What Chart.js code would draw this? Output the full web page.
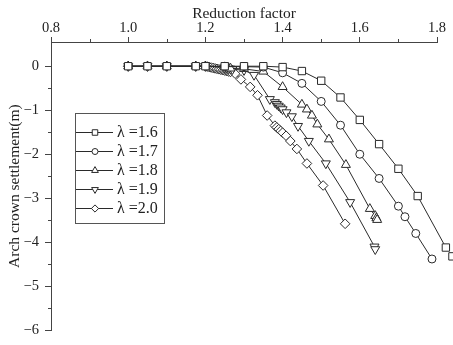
<!DOCTYPE html>
<html>
<head>
<meta charset="utf-8">
<script src="https://cdn.jsdelivr.net/npm/chart.js@4/dist/chart.umd.min.js"></script>
<style>
html,body{margin:0;padding:0;background:#fff}
#wrap{width:453px;height:345px;position:relative}
</style>
</head>
<body>
<div id="wrap"><canvas id="chart" width="453" height="345"></canvas></div>
<script>
// reduction factor vs crown settlement, one pair of arrays per lambda
const xTicks=[0.8,1.0,1.2,1.4,1.6,1.8]
const xMinor=[0.9,1.1,1.3,1.5,1.7]
const yTicks=[-6,-5,-4,-3,-2,-1,0]
const yMinor=[-5.5,-4.5,-3.5,-2.5,-1.5,-0.5]

const labels=["λ =1.6","λ =1.7","λ =1.8","λ =1.9","λ =2.0"]

const x16=[1.0,1.05,1.1,1.175,1.2,1.25,1.3,1.35,1.4,1.45,1.5,1.55,1.6,1.65,1.7,1.75,1.823,1.84]
const y16=[0,0,0,0,0,0,0,0,-0.02,-0.11,-0.33,-0.71,-1.22,-1.77,-2.33,-2.95,-4.12,-4.32]

const x17=[1.0,1.05,1.1,1.175,1.2,1.25,1.3,1.35,1.4,1.45,1.5,1.55,1.6,1.65,1.7,1.717,1.745,1.787]
const y17=[0,0,0,0,0,-0.01,-0.01,-0.02,-0.15,-0.39,-0.8,-1.34,-2.0,-2.55,-3.18,-3.42,-3.8,-4.38]

const x18=[1.0,1.05,1.1,1.175,1.2,1.25,1.255,1.26,1.265,1.3,1.35,1.4,1.45,1.463,1.476,1.49,1.52,1.564,1.626,1.64,1.643,1.645]
const y18=[0,0,0,0,0,-0.02,-0.03,-0.04,-0.05,-0.06,-0.12,-0.47,-0.87,-0.98,-1.12,-1.32,-1.66,-2.24,-3.24,-3.4,-3.45,-3.49]

const x19=[1.0,1.05,1.1,1.175,1.2,1.25,1.255,1.26,1.265,1.27,1.3,1.326,1.367,1.38,1.385,1.39,1.395,1.4,1.41,1.424,1.44,1.468,1.512,1.575,1.638,1.64]
const y19=[0,0,0,0,0,-0.03,-0.04,-0.05,-0.06,-0.07,-0.09,-0.2,-0.75,-0.82,-0.86,-0.9,-0.94,-0.98,-1.05,-1.14,-1.36,-1.7,-2.21,-3.09,-4.1,-4.16]

const x20=[1.0,1.05,1.1,1.175,1.2,1.205,1.21,1.215,1.22,1.225,1.23,1.235,1.24,1.245,1.25,1.255,1.26,1.265,1.277,1.292,1.316,1.335,1.36,1.38,1.385,1.39,1.395,1.4,1.409,1.42,1.437,1.463,1.505,1.562]
const y20=[0,0,0,0,0,-0.01,-0.02,-0.03,-0.04,-0.05,-0.06,-0.07,-0.08,-0.09,-0.1,-0.11,-0.12,-0.13,-0.17,-0.3,-0.47,-0.66,-1.12,-1.35,-1.39,-1.43,-1.47,-1.51,-1.58,-1.7,-1.88,-2.21,-2.71,-3.58]

const xs=[x16,x17,x18,x19,x20]
const ys=[y16,y17,y18,y19,y20]
const styles=["rect","circle","triangle","triangle","rectRot"]
const rots=[0,0,0,180,0]
const radii=[5.2,4,5.2,5.2,4.8]

const ink="#2a2a2a"
const serif="'Liberation Serif','Times New Roman',serif"

function pts(i){
return xs[i].map((v,k)=>({x:v,y:ys[i][k]}))
}

let datasets=[]
for(let i=0;i<5;i++){
datasets.push({
label:labels[i],
data:pts(i),
borderColor:ink,
borderWidth:1,
pointStyle:styles[i],
rotation:rots[i],
pointRadius:radii[i],
pointBorderWidth:1,
pointBorderColor:ink,
pointBackgroundColor:"#fff",
clip:false,
tension:0
})
}

function marker(ctx,style,rot,x,y,r){
ctx.beginPath()
if(style==="rect"){
let s=r*Math.SQRT1_2
ctx.rect(x-s,y-s,2*s,2*s)
}else if(style==="circle"){
ctx.arc(x,y,r,0,Math.PI*2)
}else if(style==="triangle"){
let d=rot===180?-1:1
ctx.moveTo(x,y-d*r)
ctx.lineTo(x+r*0.866,y+d*r*0.5)
ctx.lineTo(x-r*0.866,y+d*r*0.5)
ctx.closePath()
}else{
ctx.moveTo(x,y-r)
ctx.lineTo(x+r,y)
ctx.lineTo(x,y+r)
ctx.lineTo(x-r,y)
ctx.closePath()
}
ctx.fill()
ctx.stroke()
}

const extras={
id:"extras",
afterDatasetsDraw(c){
// chart.js skips points outside the chart area, draw those ones here
const ctx=c.ctx
ctx.save()
ctx.strokeStyle=ink
ctx.fillStyle="#fff"
ctx.lineWidth=1
c.data.datasets.forEach((d,i)=>{
c.getDatasetMeta(i).data.forEach(p=>{
if(p.x>c.chartArea.right)marker(ctx,styles[i],rots[i],p.x,p.y,radii[i])
})
})
ctx.restore()
},
afterDraw(c){
const ctx=c.ctx
const xs_=c.scales.x
const ys_=c.scales.y
ctx.save()
ctx.strokeStyle="#444"
ctx.lineWidth=1
// minor ticks
xMinor.forEach(v=>{
let px=Math.round(xs_.getPixelForValue(v))+0.5
ctx.beginPath()
ctx.moveTo(px,c.chartArea.top)
ctx.lineTo(px,c.chartArea.top-3)
ctx.stroke()
})
yMinor.forEach(v=>{
let py=Math.round(ys_.getPixelForValue(v))+0.5
ctx.beginPath()
ctx.moveTo(c.chartArea.left,py)
ctx.lineTo(c.chartArea.left-3,py)
ctx.stroke()
})
// legend
ctx.fillStyle="#fff"
ctx.strokeStyle="#555"
ctx.fillRect(75,113,89,110)
ctx.strokeRect(75.5,113.5,89,110)
for(let i=0;i<5;i++){
let y=132+i*19
ctx.strokeStyle=ink
ctx.beginPath()
ctx.moveTo(76,y+0.5)
ctx.lineTo(113,y+0.5)
ctx.stroke()
ctx.fillStyle="#fff"
marker(ctx,styles[i],rots[i],95,y+0.5,radii[i]*0.75)
ctx.fillStyle="#222"
ctx.font="16px "+serif
ctx.textBaseline="middle"
ctx.textAlign="left"
ctx.fillText(labels[i],117,y+1)
}
ctx.restore()
}
}

new Chart(document.getElementById("chart"),{
type:"line",
data:{datasets:datasets},
options:{
responsive:false,
animation:false,
layout:{padding:{top:3,left:0,right:16,bottom:11}},
plugins:{legend:{display:false},tooltip:{enabled:false}},
scales:{
x:{
type:"linear",
position:"top",
min:0.8,
max:1.8,
afterBuildTicks:a=>{a.ticks=xTicks.map(v=>({value:v}))},
afterFit:s=>{s.height=39},
ticks:{color:"#222",font:{family:serif,size:14.5},padding:0,maxRotation:0,callback:v=>Number(v).toFixed(1)},
grid:{drawOnChartArea:false,tickLength:5,color:"#444"},
border:{color:"#444",width:1},
title:{display:true,text:"Reduction factor",color:"#222",font:{family:serif,size:15.5},padding:{top:2,bottom:0}}
},
y:{
type:"linear",
min:-6,
max:0.55,
afterBuildTicks:a=>{a.ticks=yTicks.map(v=>({value:v}))},
afterFit:s=>{s.width=51},
ticks:{color:"#222",font:{family:serif,size:14.5},padding:6,callback:v=>v<0?"\u2212"+Math.abs(v):String(v)},
grid:{drawOnChartArea:false,tickLength:6,color:"#444"},
border:{color:"#444",width:1},
title:{display:true,text:"Arch crown settlement(m)",color:"#222",font:{family:serif,size:15.5},padding:{top:6,bottom:0}}
}
}
},
plugins:[extras]
})
</script>
</body>
</html>
